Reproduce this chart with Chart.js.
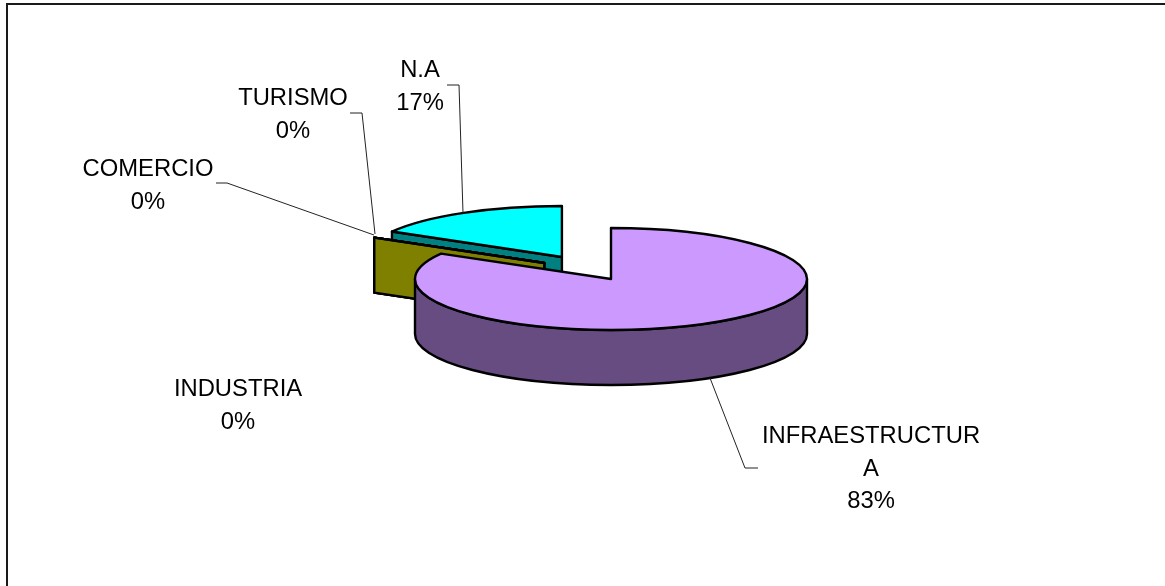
<!DOCTYPE html>
<html>
<head>
<meta charset="utf-8">
<title>Pie</title>
<script src="https://cdn.jsdelivr.net/npm/chart.js@4"></script>
<style>
	html, body { margin: 0; padding: 0; background: #fff; overflow: hidden; }
	canvas { display: block; }
</style>
</head>
<body>
<canvas id="sectores" width="1165" height="586"></canvas>
<script>
// Data
var categories = ['INFRAESTRUCTURA', 'INDUSTRIA', 'COMERCIO', 'TURISMO', 'N.A'];
var values = [83.3, 0, 0, 0, 16.7];

// Slices colours, the side wall is the same colour at half brightness
var topColors = ['#cc99ff', '#ffff00', '#ffff00', '#ffff00', '#00ffff'];
var sideColors = ['#664c80', '#808000', '#808000', '#808000', '#008080'];

// The pie is flat for chart.js, this is what makes it look like 3d
var squash = 0.26;
var depth = 55;
var explode = [0, 77, 77, 77, 98];
var lift = [0, 6, 6, 6, 0];

// Text lines are split as in the picture, percent is added from the values
var labelLines = [
	{ i: 0, lines: ['INFRAESTRUCTUR', 'A'], x: 871, y: 443 },
	{ i: 1, lines: ['INDUSTRIA'], x: 238, y: 396 },
	{ i: 2, lines: ['COMERCIO'], x: 148, y: 176 },
	{ i: 3, lines: ['TURISMO'], x: 293, y: 105 },
	{ i: 4, lines: ['N.A'], x: 420, y: 77 },
];
var leaders = [
	[[710, 378], [745, 468], [758, 468]],
	[[216, 183], [227, 183], [374, 235]],
	[[350, 113], [362, 113], [375, 234]],
	[[447, 85], [459, 85], [463, 213]],
];

function drawSlice(ctx, arc, index) {
	var mid = (arc.startAngle + arc.endAngle) / 2;
	var cx = arc.x + Math.cos(mid) * arc.options.offset;
	var cy = arc.y + Math.sin(mid) * arc.options.offset * squash - lift[index];
	var rx = arc.outerRadius;
	var ry = rx * squash;
	var a0 = arc.startAngle;
	var a1 = arc.endAngle;

	ctx.lineWidth = 2.4;
	ctx.lineJoin = 'round';
	ctx.strokeStyle = '#000';

	// flat wall of the cut, only when it looks to the front
	if (Math.cos(a0) < -0.001) {
		var px = cx + Math.cos(a0) * rx;
		var py = cy + Math.sin(a0) * ry;
		ctx.beginPath();
		ctx.moveTo(cx, cy);
		ctx.lineTo(px, py);
		ctx.lineTo(px, py + depth);
		ctx.lineTo(cx, cy + depth);
		ctx.closePath();
		ctx.fillStyle = sideColors[index];
		ctx.fill();
		ctx.stroke();
	}

	// round wall, lower half of the ellipse only
	var from = Math.max(a0, 0);
	var to = Math.min(a1, Math.PI);
	if (to > from) {
		ctx.beginPath();
		ctx.ellipse(cx, cy, rx, ry, 0, from, to);
		ctx.ellipse(cx, cy + depth, rx, ry, 0, to, from, true);
		ctx.closePath();
		ctx.fillStyle = sideColors[index];
		ctx.fill();
		ctx.stroke();
	}

	// top
	ctx.beginPath();
	ctx.moveTo(cx, cy);
	ctx.ellipse(cx, cy, rx, ry, 0, a0, a1);
	ctx.closePath();
	ctx.fillStyle = topColors[index];
	ctx.fill();
	ctx.stroke();
}

var pie3d = {
	id: 'pie3d',
	beforeDatasetDraw: function (chart) {
		var ctx = chart.ctx;
		var arcs = chart.getDatasetMeta(0).data;
		ctx.save();
		// from back to front
		for (var i = arcs.length - 1; i >= 0; i--) {
			drawSlice(ctx, arcs[i], i);
		}
		ctx.restore();
		return false;
	},
	afterDatasetsDraw: function (chart) {
		var ctx = chart.ctx;
		var total = values.reduce(function (a, b) { return a + b; }, 0);
		ctx.save();

		// chart frame, only top and left are in the picture
		ctx.fillStyle = '#1a1a1a';
		ctx.fillRect(6, 3, 1159, 2);
		ctx.fillRect(6, 3, 2, 583);

		ctx.strokeStyle = '#222';
		ctx.lineWidth = 1;
		for (var l of leaders) {
			ctx.beginPath();
			ctx.moveTo(l[0][0], l[0][1]);
			ctx.lineTo(l[1][0], l[1][1]);
			ctx.lineTo(l[2][0], l[2][1]);
			ctx.stroke();
		}

		ctx.fillStyle = '#000';
		ctx.font = '23.8px "Liberation Sans"';
		ctx.textAlign = 'center';
		for (var item of labelLines) {
			var rows = item.lines.concat(Math.round(values[item.i] / total * 100) + '%');
			for (var r = 0; r < rows.length; r++) {
				ctx.fillText(rows[r], item.x, item.y + r * 32.5);
			}
		}
		ctx.restore();
	},
};

var ctx0 = document.getElementById('sectores').getContext('2d');
var chart0 = new Chart(ctx0, {
	type: 'pie',
	data: {
		labels: categories,
		datasets: [
			{
				data: values,
				backgroundColor: topColors,
				borderColor: '#000',
				borderWidth: 2,
				offset: explode,
			},
		],
	},
	options: {
		responsive: false,
		animation: false,
		radius: 196,
		layout: { padding: { left: 57, right: 0, top: 0, bottom: 28 } },
		plugins: {
			legend: { display: false },
			title: { display: false },
			tooltip: { enabled: false },
		},
	},
	plugins: [pie3d],
});
</script>
</body>
</html>
